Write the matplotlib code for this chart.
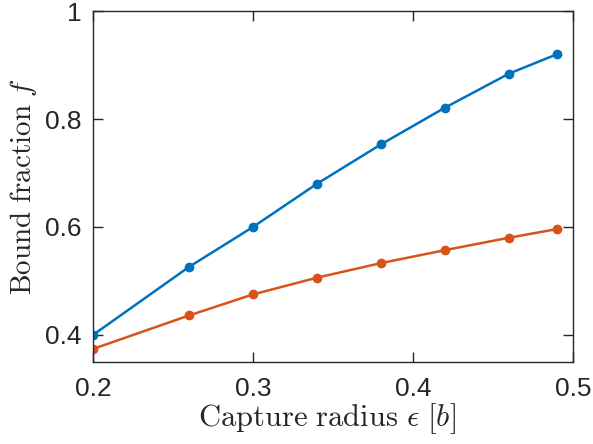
import matplotlib
matplotlib.use("Agg")
import matplotlib.pyplot as plt

eps = [0.2, 0.26, 0.3, 0.34, 0.38, 0.42, 0.46, 0.49]
f_blue = [0.400, 0.526, 0.600, 0.680, 0.753, 0.821, 0.884, 0.920]
f_orange = [0.374, 0.436, 0.475, 0.506, 0.533, 0.557, 0.580, 0.596]
xticks = [0.2, 0.3, 0.4, 0.5]
yticks = [0.4, 0.6, 0.8, 1.0]
xticklabels = ["0.2", "0.3", "0.4", "0.5"]
yticklabels = ["0.4", "0.6", "0.8", "1"]

plt.rcParams['font.family'] = ['Liberation Sans', 'DejaVu Sans']
plt.rcParams['mathtext.fontset'] = 'cm'

fig = plt.figure(figsize=(5.93, 4.44), dpi=100)
ax = fig.add_axes([0.157, 0.185, 0.809, 0.79])
c_ax = '#262626'
ax.plot(eps, f_blue, '-o', color='#0072BD', lw=1.8, ms=6)
ax.plot(eps, f_orange, '-o', color='#D95319', lw=1.8, ms=6)
ax.set_xlim(0.2, 0.5)
ax.set_ylim(0.35, 1.0)
ax.set_xticks(xticks)
ax.set_xticklabels(xticklabels)
ax.set_yticks(yticks)
ax.set_yticklabels(yticklabels)
ax.tick_params(direction='in', length=7, width=1.0, colors=c_ax, labelsize=19,
               top=True, right=True)
ax.tick_params(axis='x', pad=11)
ax.tick_params(axis='y', pad=8)
for s in ax.spines.values():
    s.set_color(c_ax)
    s.set_linewidth(1.0)
ax.set_xlabel(r'$\mathrm{Capture\ radius}\ \epsilon\ [b]$', fontsize=22, color=c_ax, labelpad=0)
ax.xaxis.label.set_x(0.487)
ax.set_ylabel(r'$\mathrm{Bound\ fraction}\ f$', fontsize=21, color=c_ax, labelpad=5)
fig.savefig('out.png', dpi=100)
